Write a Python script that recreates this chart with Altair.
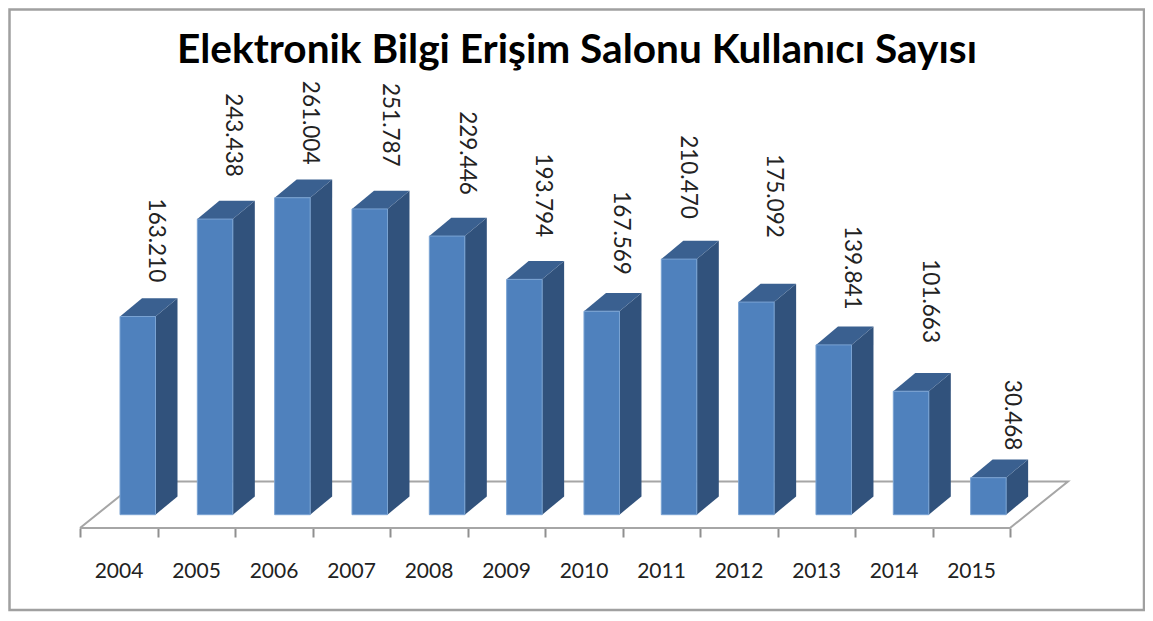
import altair as alt
import pandas as pd

YEARS = ["2004","2005","2006","2007","2008","2009","2010","2011","2012","2013","2014","2015"]
VALUES = [163210,243438,261004,251787,229446,193794,167569,210470,175092,139841,101663,30468]
TITLE = "Elektronik Bilgi Erişim Salonu Kullanıcı Sayısı"

# per-label nudges seen in the picture (pixels)
LABEL_SHIFT = [18,18,18,20,20,19,19,9,18,18,19,24]
LABEL_GAP = [16,24,15,24,23,24,18,22,46,17,30,9]

W, H = 930, 450
UNITS_PER_PX = 823.5
Y0 = -13.3 * UNITS_PER_PX
Y1 = (H - 13.3) * UNITS_PER_PX
XPX = W / 12
BAR_START, BAR_STEP = 40 / XPX, 77.33 / XPX
BAR_W = 35.5 / XPX
DX, DY = 22 / XPX, 18.3 * UNITS_PER_PX
FLOOR_DX, FLOOR_DY = 58 / XPX, 46.5 * UNITS_PER_PX

front, side, top, labels = [], [], [], []
for i, (yr, v) in enumerate(zip(YEARS, VALUES)):
    l = BAR_START + i * BAR_STEP
    r = l + BAR_W
    front.append(dict(year=yr, x=l, x2=r, y=0, y2=v))
    side += [dict(year=yr, x=r, y=0, y2=v), dict(year=yr, x=r + DX, y=DY, y2=v + DY)]
    top += [dict(year=yr, x=l, y=v, y2=v), dict(year=yr, x=l + DX, y=v, y2=v + DY),
            dict(year=yr, x=r, y=v, y2=v + DY), dict(year=yr, x=r + DX, y=v + DY, y2=v + DY)]
    labels.append(dict(x=(l + r) / 2 + LABEL_SHIFT[i] / XPX,
                       y=v + DY + LABEL_GAP[i] * UNITS_PER_PX,
                       t=f"{v:,}".replace(",", ".")))

floor = [dict(x=0, y=Y0, o=0), dict(x=12, y=Y0, o=1), dict(x=12 + FLOOR_DX, y=Y0 + FLOOR_DY, o=2),
         dict(x=FLOOR_DX, y=Y0 + FLOOR_DY, o=3), dict(x=0, y=Y0, o=4)]

names = "[" + ",".join(f'"{y}"' for y in YEARS) + "]"
axis = alt.Axis(values=list(range(13)), labelExpr=names + '[datum.value] || ""', title=None, grid=False,
                domain=False, ticks=True, tickSize=9, tickWidth=2, tickColor="#8f8f8f",
                labelOffset=38.5, labelPadding=23, labelBaseline="top", labelFont="Lato", labelFontSize=21,
                labelColor="#222222", labelOverlap=False, labelFlush=False, labelBound=False)

xs = alt.Scale(domain=[0, 12], nice=False, zero=False)
ys = alt.Scale(domain=[Y0, Y1], nice=False, zero=False)
X = alt.X("x:Q", scale=xs, axis=axis)
Y = alt.Y("y:Q", scale=ys, axis=None, stack=None)

border = alt.Chart(pd.DataFrame({"a": [0]})).mark_rect(filled=False, stroke="#a0a0a0", strokeWidth=2.5).encode(
    x=alt.value(-70.5), x2=alt.value(1064), y=alt.value(-68.5), y2=alt.value(532))

title_l = alt.Chart(pd.DataFrame({"t": [TITLE]})).mark_text(
    font="Lato", fontWeight="bold", fontSize=40.6, color="#000000", align="center", baseline="alphabetic").encode(
    x=alt.value(497), y=alt.value(-15), text="t:N")

floor_l = alt.Chart(pd.DataFrame(floor)).mark_line(color="#a6a6a6", strokeWidth=2, clip=False).encode(
    x=X, y=Y, order="o:Q")

side_l = alt.Chart(pd.DataFrame(side)).mark_area(color="#31527c", orient="vertical").encode(
    x=X, y=Y, y2="y2:Q", detail="year:N")
top_l = alt.Chart(pd.DataFrame(top)).mark_area(color="#3a6090", orient="vertical").encode(
    x=X, y=Y, y2="y2:Q", detail="year:N")
front_l = alt.Chart(pd.DataFrame(front)).mark_bar(color="#4f81bd", stroke="#7aa3d3", strokeWidth=1).encode(
    x=X, x2="x2:Q", y=Y, y2="y2:Q")
text_l = alt.Chart(pd.DataFrame(labels)).mark_text(
    angle=90, align="right", baseline="middle", font="Lato", fontSize=22.5, color="#222222").encode(
    x=X, y=Y, text="t:N")

chart = alt.layer(border, title_l, floor_l, side_l, top_l, front_l, text_l).properties(
    width=W, height=H,
    background="white",
    padding={"left": 72, "top": 70, "right": 135, "bottom": 84},
    autosize=alt.AutoSizeParams(type="none"),
).configure_view(stroke=None)

chart.save("out.html", embed_options={"renderer": "svg", "actions": False})
